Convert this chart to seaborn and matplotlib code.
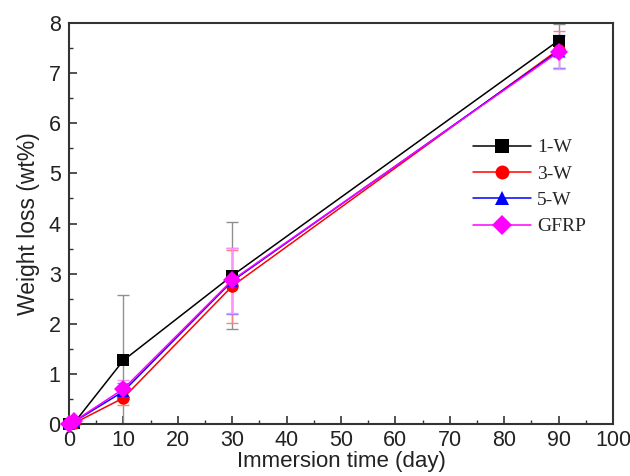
import matplotlib
matplotlib.use("Agg")
import matplotlib.pyplot as plt
import seaborn as sns
import pandas as pd
import numpy as np
from matplotlib.ticker import MultipleLocator
from matplotlib.lines import Line2D

days = [0, 1, 10, 30, 90]
series = ["1-W", "3-W", "5-W", "GFRP"]
w1 = [0.0, 0.03, 1.27, 2.96, 7.65]
w3 = [0.0, 0.02, 0.52, 2.75, 7.47]
w5 = [0.0, 0.05, 0.65, 2.85, 7.44]
gfrp = [0.0, 0.06, 0.70, 2.87, 7.42]
e1 = [0.0, 0.0, 1.30, 1.07, 0.33]
e3 = [0.0, 0.0, 0.15, 0.73, 0.37]
e5 = [0.0, 0.0, 0.16, 0.66, 0.33]
eg = [0.0, 0.0, 0.17, 0.65, 0.33]

values = {"1-W": w1, "3-W": w3, "5-W": w5, "GFRP": gfrp}
errors = {"1-W": e1, "3-W": e3, "5-W": e5, "GFRP": eg}
colors = {"1-W": "#000000", "3-W": "#ff0000", "5-W": "#0000ff", "GFRP": "#ff00ff"}
ecolors = {"1-W": "#909090", "3-W": "#ff8080", "5-W": "#8080ff", "GFRP": "#ff90ff"}
markers = {"1-W": "s", "3-W": "o", "5-W": "^", "GFRP": "D"}

rows = []
for s in series:
    for d, v in zip(days, values[s]):
        rows.append({"day": d, "loss": v, "sample": s})
df = pd.DataFrame(rows)

sns.set_style("ticks")
plt.rcParams["font.family"] = ["Liberation Sans", "DejaVu Sans"]

fig = plt.figure(figsize=(6.3, 4.76), dpi=100)
ax = fig.add_axes([0.1095, 0.1092, 0.8635, 0.8425])

for s in series:
    ax.errorbar(days, values[s], yerr=errors[s], fmt="none", ecolor=ecolors[s],
                elinewidth=1.0, capsize=4, capthick=1.0, zorder=1)

sns.lineplot(data=df, x="day", y="loss", hue="sample", style="sample",
             hue_order=series, style_order=series, palette=colors,
             markers=markers, dashes=False, markersize=9, linewidth=1.1,
             markeredgewidth=0, ax=ax, legend=False, zorder=3, clip_on=False)

ax.set_xlim(0, 100)
ax.set_ylim(0, 8)
ax.xaxis.set_major_locator(MultipleLocator(10))
ax.xaxis.set_minor_locator(MultipleLocator(5))
ax.yaxis.set_major_locator(MultipleLocator(1))
ax.yaxis.set_minor_locator(MultipleLocator(0.5))
ax.tick_params(which="major", direction="in", length=6, width=1.2, labelsize=15.5,
               top=False, right=False, colors="#333333", labelcolor="#222222", pad=6)
ax.tick_params(which="minor", direction="in", length=3, width=1.0,
               top=False, right=False, colors="#333333")
ax.tick_params(axis="x", which="major", pad=4)
for sp in ax.spines.values():
    sp.set_linewidth(1.5)
    sp.set_color("#333333")
    sp.set_visible(True)

ax.set_xlabel("Immersion time (day)", fontsize=16, color="#222222", labelpad=0)
ax.set_ylabel("Weight loss (wt%)", fontsize=16.5, color="#222222", labelpad=6)

handles = [Line2D([0], [0], color=colors[s], marker=markers[s], markersize=10,
                  markeredgewidth=0, linewidth=1.1) for s in series]
ax.legend(handles, series, loc="upper left", bbox_to_anchor=(0.71, 0.755),
          frameon=False, prop={"family": "Liberation Serif", "size": 14},
          handlelength=3.0, handletextpad=0.3, labelspacing=0.45)

fig.savefig("out.png", dpi=100)
